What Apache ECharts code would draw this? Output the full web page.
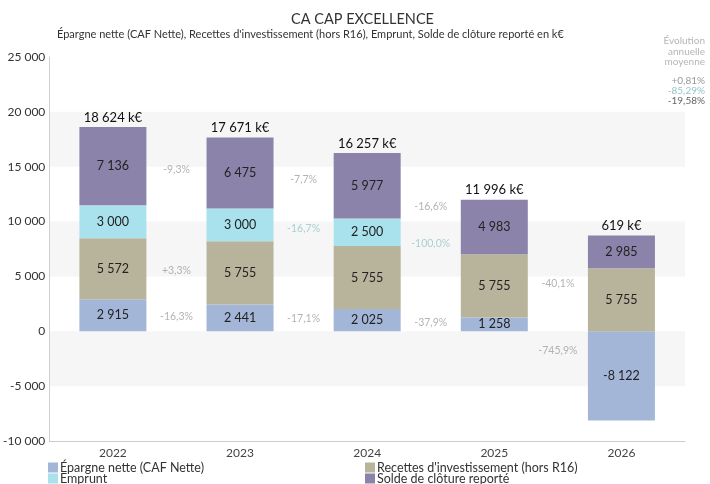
<!DOCTYPE html>
<html>
  <head>
    <meta charset="utf-8" />
    <script src="https://cdn.jsdelivr.net/npm/echarts@6/dist/echarts.min.js"></script>
  </head>
  <body>
    <style>
      html,
      body,
      #main {
        width: 100%;
        height: 100%;
        margin: 0;
        background: #fff;
      }
    </style>
    <div id="main"></div>
    <script>
      var chart = echarts.init(document.getElementById('main'));

      const years = ['2022', '2023', '2024', '2025', '2026'];
      const seriesNames = [
        'Épargne nette (CAF Nette)',
        "Recettes d'investissement (hors R16)",
        'Emprunt',
        'Solde de clôture reporté'
      ];
      const epargne = [2915, 2441, 2025, 1258, -8122];
      const recettes = [5572, 5755, 5755, 5755, 5755];
      const emprunt = [3000, 3000, 2500, 0, 0];
      const solde = [7136, 6475, 5977, 4983, 2985];
      const totals = [18624, 17671, 16257, 11996, 619];

      // year-on-year change labels, drawn between the bars
      const pctEpargne = ['-16,3%', '-17,1%', '-37,9%', '-745,9%'];
      const pctRecettes = ['+3,3%', '', '', ''];
      const pctEmprunt = ['', '-16,7%', '-100,0%', ''];
      const pctSolde = ['-9,3%', '-7,7%', '-16,6%', '-40,1%'];

      // average annual change (right column)
      const avgLabels = ['+0,81%', '-85,29%', '-19,58%'];

      const values = [epargne, recettes, emprunt, solde];
      const pcts = [pctEpargne, pctRecettes, pctEmprunt, pctSolde];
      const colors = ['#a3b6d8', '#b8b49c', '#a9e1ec', '#8b83aa'];
      const pctColors = ['#a0a0a0', '#a0a0a0', '#98c6cc', '#a0a0a0'];

      const fmt = function (v) {
        return String(v).replace(/\B(?=(\d{3})+(?!\d))/g, ' ');
      };

      // centre of each segment, running signed sum as in the source
      var centers = values.map(function () { return []; });
      years.forEach(function (y, i) {
        var cum = 0;
        values.forEach(function (arr, k) {
          centers[k][i] = cum + arr[i] / 2;
          cum += arr[i];
        });
      });

      var pctData = [];
      pcts.forEach(function (arr, k) {
        arr.forEach(function (txt, i) {
          if (!txt) return;
          pctData.push({
            value: [i + 1, (centers[k][i] + centers[k][i + 1]) / 2],
            label: { formatter: txt, color: pctColors[k] }
          });
        });
      });

      var font = 'Lato, "Open Sans", sans-serif';

      var series = values.map(function (arr, k) {
        return {
          name: seriesNames[k],
          type: 'bar',
          stack: 'all',
          barWidth: 67,
          itemStyle: { color: colors[k] },
          label: {
            show: true,
            position: 'inside',
            color: '#222',
            fontSize: 12.5,
            fontFamily: font,
            formatter: function (p) {
              return p.value === 0 ? '' : fmt(p.value);
            }
          },
          data: arr
        };
      });

      // total above each column
      series.push({
        type: 'bar',
        stack: 'all',
        barWidth: 67,
        silent: true,
        itemStyle: { color: 'transparent' },
        label: {
          show: true,
          position: 'top',
          color: '#111',
          fontSize: 13,
          fontFamily: font,
          distance: 3,
          formatter: function (p) {
            return fmt(totals[p.dataIndex]) + ' k€';
          }
        },
        data: years.map(function () { return 0; })
      });

      series.push({
        type: 'scatter',
        xAxisIndex: 1,
        symbolSize: 0,
        silent: true,
        label: {
          show: true,
          position: 'inside',
          fontSize: 10.5,
          fontFamily: font
        },
        data: pctData
      });

      var legendText = { fontSize: 12.5, color: '#333', lineHeight: 11, padding: [0, 0, 0, -3] };

      var option = {
        animation: false,
        textStyle: { fontFamily: font },
        title: [
          {
            text: 'CA CAP EXCELLENCE',
            left: 286,
            top: 7,
            textStyle: { fontSize: 14.5, fontWeight: 'normal', color: '#333', fontFamily: font }
          },
          {
            text: "Épargne nette (CAF Nette), Recettes d'investissement (hors R16), Emprunt, Solde de clôture reporté en k€",
            left: 52,
            top: 24,
            textStyle: { fontSize: 11, fontWeight: 'normal', color: '#333', fontFamily: font }
          }
        ],
        graphic: [
          {
            type: 'text',
            right: 5,
            top: 36,
            style: {
              text: 'Évolution\nannuelle\nmoyenne',
              textAlign: 'right',
              fill: '#b5b5b5',
              fontSize: 10,
              lineHeight: 10.5,
              fontFamily: font
            }
          },
          {
            type: 'text',
            right: 5,
            top: 76,
            style: {
              text: avgLabels[0],
              textAlign: 'right',
              fill: '#9a9a9a',
              fontSize: 10,
              fontFamily: font
            }
          },
          {
            type: 'text',
            right: 5,
            top: 86,
            style: {
              text: avgLabels[1],
              textAlign: 'right',
              fill: '#98c4ca',
              fontSize: 10,
              fontFamily: font
            }
          },
          {
            type: 'text',
            right: 5,
            top: 96,
            style: {
              text: avgLabels[2],
              textAlign: 'right',
              fill: '#666',
              fontSize: 10,
              fontFamily: font
            }
          }
        ],
        legend: [
          {
            orient: 'vertical',
            left: 46,
            top: 459,
            height: 40,
            padding: 2,
            itemWidth: 10,
            itemHeight: 10,
            itemGap: -2,
            icon: 'rect',
            textStyle: legendText,
            data: [seriesNames[0], seriesNames[2]]
          },
          {
            orient: 'vertical',
            left: 363,
            top: 459,
            height: 40,
            padding: 2,
            itemWidth: 10,
            itemHeight: 10,
            itemGap: -2,
            icon: 'rect',
            textStyle: legendText,
            data: [seriesNames[1], seriesNames[3]]
          }
        ],
        grid: {
          left: 49,
          right: 25,
          top: 57,
          bottom: 43
        },
        xAxis: [
          {
            type: 'category',
            data: years,
            axisLine: { onZero: false, lineStyle: { color: '#ccc' } },
            axisTick: { show: false },
            axisLabel: { color: '#444', fontSize: 12, margin: 6 }
          },
          {
            type: 'value',
            min: 0,
            max: 5,
            show: false
          }
        ],
        yAxis: {
          type: 'value',
          min: -10000,
          max: 25000,
          interval: 5000,
          axisLine: { show: true, lineStyle: { color: '#d0d0d0' } },
          axisTick: { show: false },
          splitLine: { show: false },
          splitArea: {
            show: true,
            areaStyle: { color: ['rgba(255,255,255,0)', '#f6f6f6'] }
          },
          axisLabel: {
            color: '#333',
            fontSize: 12,
            margin: 4,
            formatter: function (v) {
              return fmt(v);
            }
          }
        },
        series: series
      };

      chart.setOption(option);

      window.onresize = function () {
        chart.resize();
      };
    </script>
  </body>
</html>
